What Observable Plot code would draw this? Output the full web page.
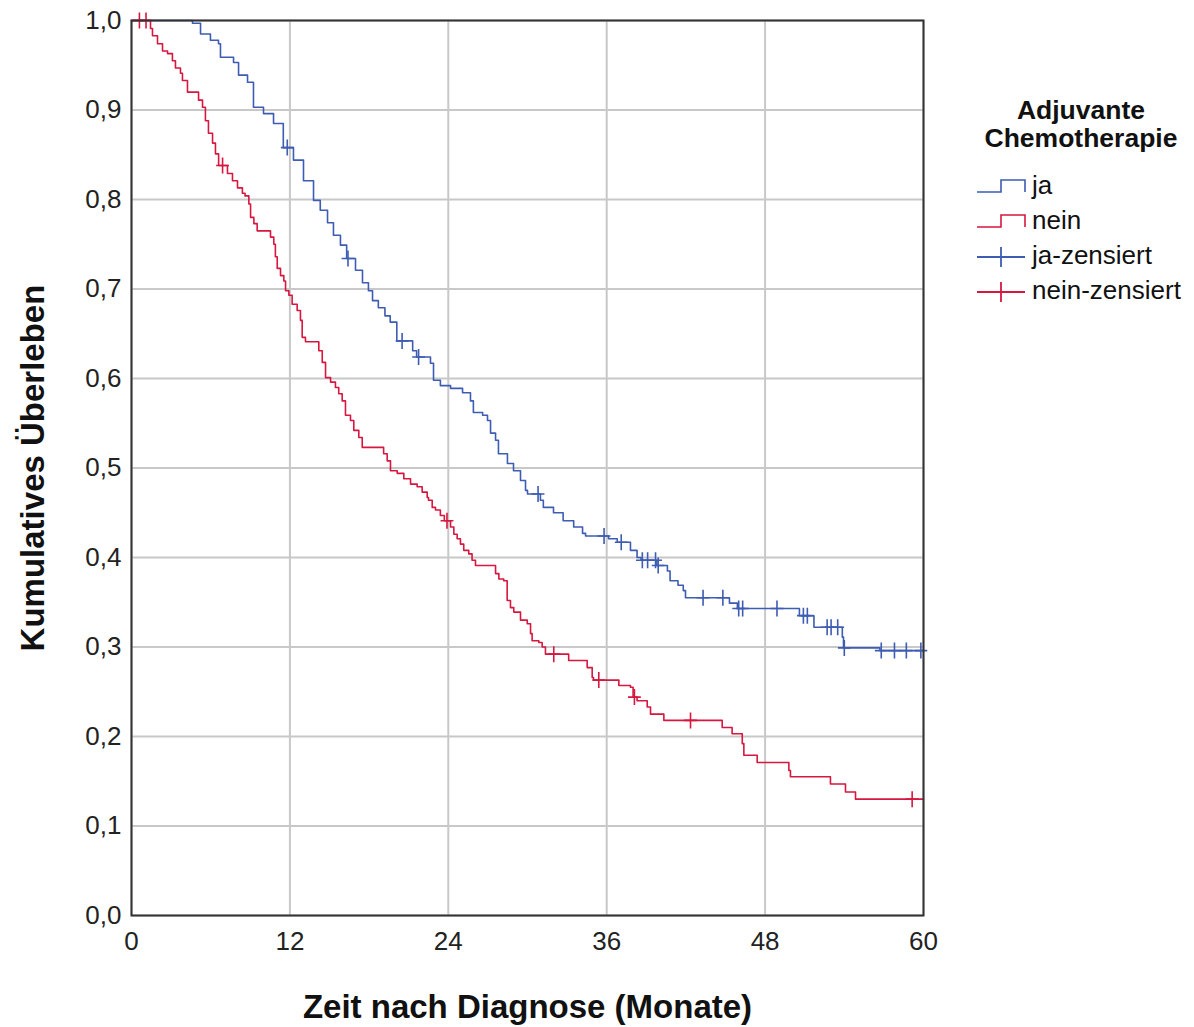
<!DOCTYPE html>
<html>
<head>
<meta charset="utf-8">
<script src="https://cdn.jsdelivr.net/npm/d3@7"></script>
<script src="https://cdn.jsdelivr.net/npm/@observablehq/plot@0.6"></script>
<style>
  html, body { margin: 0; padding: 0; background: #fff; }
  #wrap { position: relative; width: 1194px; height: 1027px; }
  #legend { position: absolute; left: 975px; top: 96px; font-family: "Liberation Sans", Arial, sans-serif; color: #111; }
  #legend .title { font-weight: bold; font-size: 26.5px; line-height: 28px; text-align: center; width: 212px; }
  #legend .item { display: flex; align-items: center; height: 35px; font-size: 26px; }
  #legend .item svg { margin-right: 3px; }
</style>
</head>
<body>
<div id="wrap">
  <div id="chart"></div>
  <div id="legend"></div>
</div>
<script>
// ---- Data ----
const groups = ["ja", "nein"];
const colors = ["#3d5cb2", "#d6173f"];
const xTicks = [0, 12, 24, 36, 48, 60];
const yTicks = [0, 0.1, 0.2, 0.3, 0.4, 0.5, 0.6, 0.7, 0.8, 0.9, 1.0];

// "ja" step curve: times (months) and survival after each step
const jaT = [0, 4.62, 5.23, 5.98, 6.59, 6.74, 7.73, 8.11, 8.79, 9.24, 10.0, 10.76, 11.5, 12.27, 13.03, 13.79,
  14.3, 14.85, 15.3, 15.83, 16.3, 16.97, 17.5, 17.95, 18.26, 18.7, 19.2, 19.6, 20.1, 21.3, 21.6, 22.65, 22.88,
  23.4, 24.17, 25.08, 25.68, 25.9, 26.6, 26.97, 27.2, 27.58, 27.8, 28.48, 28.94, 29.47, 29.85, 30.0, 30.98,
  31.2, 31.97, 32.7, 33.5, 34.17, 34.4, 36.14, 36.8, 37.8, 38.3, 38.6, 39.8, 40.6, 40.8, 41.4, 41.8, 41.97,
  45.3, 45.9, 50.6, 51.7, 53.85, 53.94, 56.7];
const jaS = [1.0, 0.997, 0.985, 0.978, 0.974, 0.959, 0.953, 0.939, 0.931, 0.903, 0.896, 0.885, 0.858, 0.844, 0.821, 0.799,
  0.788, 0.774, 0.760, 0.749, 0.734, 0.721, 0.707, 0.698, 0.687, 0.679, 0.670, 0.663, 0.642, 0.631, 0.624, 0.617, 0.598,
  0.592, 0.589, 0.584, 0.575, 0.562, 0.559, 0.553, 0.539, 0.531, 0.516, 0.505, 0.497, 0.486, 0.475, 0.471, 0.464,
  0.456, 0.450, 0.441, 0.434, 0.427, 0.424, 0.421, 0.417, 0.408, 0.400, 0.397, 0.391, 0.385, 0.374, 0.369, 0.363, 0.355,
  0.349, 0.343, 0.335, 0.322, 0.311, 0.299, 0.296];
const jaCens = [11.8, 16.4, 20.5, 21.75, 30.8, 35.8, 37.1, 38.7, 39.1, 39.7, 39.9, 43.3, 44.8, 46.0, 46.3, 48.9,
  50.9, 51.2, 52.7, 53.0, 53.5, 54.0, 56.8, 57.8, 58.7, 59.8];

// "nein" step curve
const neinT = [0, 1.44, 1.59, 1.97, 2.35, 2.73, 3.1, 3.33, 3.71, 3.86, 4.24, 5.08, 5.38, 5.6, 5.83, 6.14, 6.36, 6.6,
  7.27, 7.65, 8.03, 8.4, 8.6, 8.89, 9.02, 9.27, 9.52, 10.53, 10.78, 10.9, 11.04, 11.29, 11.54, 11.67, 11.92, 12.17,
  12.55, 12.8, 12.93, 13.18, 14.19, 14.45, 14.7, 15.08, 15.45, 15.7, 15.96, 16.21, 16.59, 16.84, 17.22, 17.48,
  19.1, 19.37, 19.62, 20.13, 20.63, 21.14, 21.64, 22.02, 22.4, 22.5, 22.78, 23.03, 23.4, 23.7, 24.17, 24.42, 24.67,
  24.92, 25.17, 25.55, 25.8, 26.06, 27.58, 27.83, 28.2, 28.46, 28.71, 28.96, 29.47, 29.98, 30.23, 30.35, 30.86,
  31.11, 31.36, 33.12, 34.52, 34.9, 35.0, 36.92, 37.8, 38.0, 38.3, 39.07, 39.32, 40.33, 44.75, 45.5, 46.27, 46.39,
  47.4, 49.8, 49.92, 52.95, 54.09, 54.85];
const neinS = [1.0, 0.991, 0.983, 0.974, 0.966, 0.963, 0.955, 0.947, 0.941, 0.933, 0.920, 0.911, 0.903, 0.888, 0.874, 0.863, 0.851, 0.838,
  0.829, 0.821, 0.813, 0.807, 0.804, 0.795, 0.780, 0.773, 0.765, 0.758, 0.750, 0.736, 0.723, 0.715, 0.709, 0.698, 0.693, 0.683,
  0.676, 0.665, 0.646, 0.641, 0.631, 0.618, 0.601, 0.596, 0.590, 0.583, 0.575, 0.559, 0.553, 0.542, 0.534, 0.523,
  0.516, 0.508, 0.497, 0.494, 0.488, 0.482, 0.479, 0.473, 0.467, 0.464, 0.456, 0.453, 0.447, 0.441, 0.434, 0.426, 0.421,
  0.415, 0.408, 0.404, 0.397, 0.391, 0.382, 0.376, 0.374, 0.352, 0.344, 0.339, 0.330, 0.326, 0.315, 0.307, 0.305,
  0.300, 0.292, 0.285, 0.277, 0.266, 0.263, 0.257, 0.255, 0.244, 0.240, 0.233, 0.225, 0.218, 0.210, 0.203, 0.192, 0.179,
  0.171, 0.162, 0.155, 0.147, 0.138, 0.130];
const neinCens = [0.6, 1.1, 6.9, 23.9, 31.99, 35.4, 38.1, 42.35, 59.14];

const xMax = 60;

// ---- Build tables ----
function stepRows(T, S, g) {
  const rows = T.map((t, i) => ({ t, s: S[i], g }));
  rows.push({ t: xMax, s: S[S.length - 1], g });
  return rows;
}
function survAt(T, S, t) {
  let s = S[0];
  for (let i = 0; i < T.length; i++) { if (T[i] <= t) s = S[i]; }
  return s;
}
const jaRows = stepRows(jaT, jaS, "ja");
const neinRows = stepRows(neinT, neinS, "nein");
const jaCensRows = jaCens.map(t => ({ t, s: survAt(jaT, jaS, t), g: "ja" }));
const neinCensRows = neinCens.map(t => ({ t, s: survAt(neinT, neinS, t), g: "nein" }));

const plusSymbol = {
  draw(context, size) {
    const r = Math.sqrt(size / Math.PI);
    context.moveTo(0, -r); context.lineTo(0, r);
    context.moveTo(-r * 0.8, 0); context.lineTo(r * 0.8, 0);
  }
};

const fmt = d => d.toFixed(1).replace(".", ",");
const font = '"Liberation Sans", Arial, sans-serif';

const chart = Plot.plot({
  width: 1194,
  height: 1027,
  marginLeft: 131,
  marginRight: 271,
  marginTop: 20,
  marginBottom: 112,
  style: { fontFamily: font, fontSize: "26px", color: "#222", background: "#fff" },
  x: { domain: [0, xMax], ticks: xTicks },
  y: { domain: [0, 1], ticks: yTicks },
  marks: [
    Plot.gridX(xTicks, { stroke: "#c8c8c8", strokeOpacity: 1, strokeWidth: 2 }),
    Plot.gridY(yTicks, { stroke: "#c8c8c8", strokeOpacity: 1, strokeWidth: 2 }),
    Plot.axisX(xTicks, { tickSize: 0, tickPadding: 16, label: null, fontSize: 26, fill: "#222" }),
    Plot.axisY(yTicks, { tickSize: 0, tickPadding: 10, label: null, tickFormat: fmt, fontSize: 26, fill: "#222" }),
    Plot.line(jaRows, { x: "t", y: "s", curve: "step-after", stroke: colors[0], strokeWidth: 1.6 }),
    Plot.line(neinRows, { x: "t", y: "s", curve: "step-after", stroke: colors[1], strokeWidth: 1.6 }),
    Plot.dot(jaCensRows, { x: "t", y: "s", symbol: plusSymbol, r: 8, stroke: colors[0], fill: "none", strokeWidth: 1.6 }),
    Plot.dot(neinCensRows, { x: "t", y: "s", symbol: plusSymbol, r: 8, stroke: colors[1], fill: "none", strokeWidth: 1.6 }),
    Plot.frame({ stroke: "#333", strokeWidth: 2 }),
    Plot.text(["Kumulatives Überleben"], { text: d => d, frameAnchor: "left", dx: -98, rotate: -90,
      fontSize: 33, fontWeight: "bold", fill: "#111", textAnchor: "middle" }),
    Plot.text(["Zeit nach Diagnose (Monate)"], { text: d => d, frameAnchor: "bottom", dy: 102,
      fontSize: 33, fontWeight: "bold", fill: "#111" })
  ]
});
document.getElementById("chart").appendChild(chart);

// ---- Legend ----
const legend = document.getElementById("legend");
const title = document.createElement("div");
title.className = "title";
title.innerHTML = "Adjuvante<br>Chemotherapie";
legend.appendChild(title);
const spacer = document.createElement("div");
spacer.style.height = "16px";
legend.appendChild(spacer);
const legendItems = [
  { label: "ja", color: colors[0], kind: "step" },
  { label: "nein", color: colors[1], kind: "step" },
  { label: "ja-zensiert", color: colors[0], kind: "cens" },
  { label: "nein-zensiert", color: colors[1], kind: "cens" }
];
for (const it of legendItems) {
  const row = document.createElement("div");
  row.className = "item";
  const path = it.kind === "step"
    ? `<path d="M2,22 H26 V10 H50 V22" fill="none" stroke="${it.color}" stroke-width="1.6"/>`
    : `<path d="M2,17 H50 M26,7 V27" fill="none" stroke="${it.color}" stroke-width="1.8"/>`;
  row.innerHTML = `<svg width="54" height="32">${path}</svg><span>${it.label}</span>`;
  legend.appendChild(row);
}
</script>
</body>
</html>
